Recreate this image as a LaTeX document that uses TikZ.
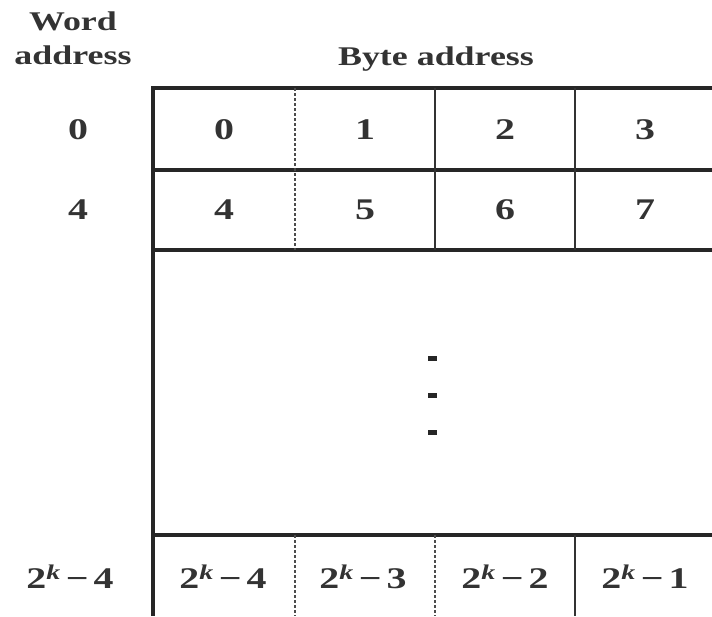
\documentclass[tikz,border=0pt]{standalone}
\usepackage{fontspec}
\setmainfont{Liberation Serif}[FakeStretch=1.33]
\tikzset{
  gridline/.style={line width=3.2pt,black!85},
  colline/.style={line width=1.8pt,black!80},
  coldash/.style={line width=1.5pt,black!70,dash pattern=on 3pt off 2pt},
  lbl/.style={font=\fontsize{30}{32}\selectfont\bfseries,text=black!80,inner sep=0pt},
  head/.style={font=\fontsize{27}{34}\selectfont\bfseries,text=black!80,inner sep=0pt,align=center},
}
\newcommand{\pk}[1]{2\textsuperscript{\textit{k}}\,−\,#1}
\begin{document}
\begin{tikzpicture}[x=1pt,y=-1pt]
  \useasboundingbox (0,0) rectangle (712,616);
  % headings
  \node[head] (wordhead) at (73,38) {Word\\address};
  \node[head] (bytehead) at (436,59) {Byte address};
  % frame and rows
  \draw[gridline] (712,88) -- (153,88) -- (153,616);
  \draw[gridline] (153,170) -- (712,170);
  \draw[gridline] (153,250) -- (712,250);
  \draw[gridline] (153,535) -- (712,535);
  % column separators
  \draw[coldash] (295,88) -- (295,250);
  \draw[colline] (435,88) -- (435,250);
  \draw[colline] (575,88) -- (575,250);
  \draw[coldash] (295,535) -- (295,616);
  \draw[coldash] (435,535) -- (435,616);
  \draw[colline] (575,535) -- (575,616);
  % word addresses
  \node[lbl] (w0) at (78,130) {0};
  \node[lbl] (w4) at (78,210) {4};
  \node[lbl] (wk) at (70,577) {\pk{4}};
  % byte addresses
  \foreach \i/\x in {0/224,1/365,2/505,3/645}
    \node[lbl] (b\i) at (\x,130) {\i};
  \foreach \i/\x in {4/224,5/365,6/505,7/645}
    \node[lbl] (b\i) at (\x,210) {\i};
  \foreach \i/\x in {4/223,3/363,2/505,1/645}
    \node[lbl] (bk\i) at (\x,577) {\pk{\i}};
  % vertical ellipsis
  \foreach \y in {358,395,432}
    \fill[black!85] (428,\y-2.5) rectangle (437,\y+2.5);
\end{tikzpicture}
\end{document}
